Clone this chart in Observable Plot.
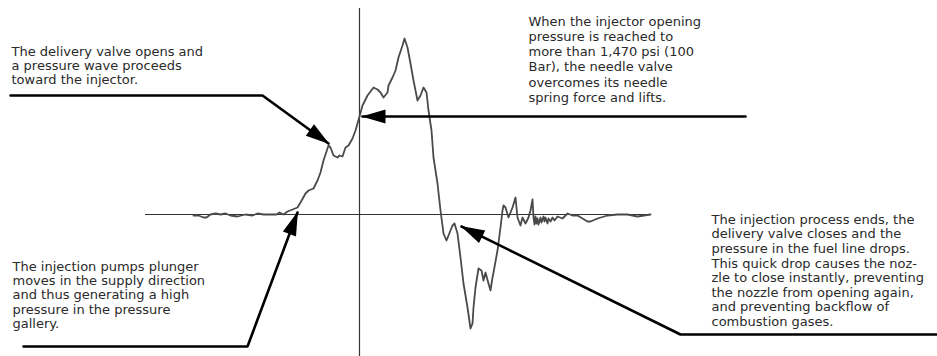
<!DOCTYPE html>
<html>
<head>
<meta charset="utf-8">
<script src="https://cdn.jsdelivr.net/npm/d3@7"></script>
<script src="https://cdn.jsdelivr.net/npm/@observablehq/plot@0.6"></script>
<style>
  body { margin: 0; background: #fff; }
  #chart svg { display: block; background: #fff; }
</style>
</head>
<body>
<div id="chart"></div>
<script>
// Fuel line pressure trace (time relative to injector opening, pressure relative to rest)
const time = [-166,-161,-156,-153,-149,-144,-139,-134,-129,-122,-114,-107,-102,-96,-89,-83,-80,-76,-72,-67,-62,-59,-54,-51,-46,-42,-39,-36,-32,-31,-29,-26,-22,-20,-17,-14,-11,-7,-4,-2,0,3,8,14,18,21,24,28,29,33,36,39,43,45,48,51,54,58,61,64,67,69,72,74,78,81,84,87,89,93,95,98,101,104,108,111,113,114,116,119,122,124,126,129,131,133,134,138,141,143,144,146,149,153,156,158,161,163,166,169,171,173,174,175,176,177,178,179,181,182,184,185,186,188,189,191,193,195,198,203,208,213,218,223,228,231,238,248,258,268,278,291];
const pressure = [-1,-1,-3,-3,0,1,0,1,-1,-2,0,-1,1,0,0,0,2,0,3,5,7,12,21,24,26,34,42,54,66,69,67,59,57,59,58,67,69,76,84,91,98,109,119,127,125,122,117,122,129,137,144,157,169,176,167,151,134,114,119,127,122,104,84,57,31,4,-19,-26,-21,-11,-9,-19,-43,-69,-93,-114,-109,-93,-73,-54,-56,-66,-58,-69,-76,-63,-58,-36,-13,4,9,7,-3,7,17,-3,-11,-3,-9,-3,4,15,-3,-10,-2,-9,-4,-10,-3,-8,-2,-7,-3,-9,-4,-7,-3,-6,-2,-4,1,-1,-1,-4,-7,-7,-4,-1,0,0,-2,0,-2,-1];

// Axes of the diagram
const axisX = [-214, 291];   // extent of the horizontal (zero pressure) line
const axisY = [-142, 206];   // extent of the vertical (opening) line

// Annotations: text, text anchor, leader path (ends at arrow tip)
const noteTexts = [
  "The delivery valve opens and\na pressure wave proceeds\ntoward the injector.",
  "When the injector opening\npressure is reached to\nmore than 1,470 psi (100\nBar), the needle valve\novercomes its needle\nspring force and lifts.",
  "The injection pumps plunger\nmoves in the supply direction\nand thus generating a high\npressure in the pressure\ngallery.",
  "The injection process ends, the\ndelivery valve closes and the\npressure in the fuel line drops.\nThis quick drop causes the noz-\nzle to close instantly, preventing\nthe nozzle from opening again,\nand preventing backflow of\ncombustion gases."
];
const noteX = [-348, 169, -347, 352];
const noteY = [169, 199, -46, 1];
const noteLineHeight = [1.09, 1.16, 1.1, 1.12];
const leaderX = [[-349, -97, -31], [386, 3], [-336, -112, -62], [577, 321, 102]];
const leaderY = [[119, 119, 71], [98, 98], [-132, -132, 2], [-120, -120, -12]];

const W = 937, H = 356;
const xDomain = [-359, 578], yDomain = [-142, 214];
const sx = d3.scaleLinear(xDomain, [0, W]);
const sy = d3.scaleLinear(yDomain, [H, 0]);

const trace = time.map((t, i) => ({t, p: pressure[i]}));

const leaders = [];
leaderX.forEach((xs, k) => xs.forEach((x, j) => leaders.push({k, x, y: leaderY[k][j]})));

const heads = leaderX.map((xs, k) => {
  const n = xs.length, ys = leaderY[k];
  const dx = sx(xs[n-1]) - sx(xs[n-2]);
  const dy = sy(ys[n-1]) - sy(ys[n-2]);
  return {x: xs[n-1], y: ys[n-1], a: Math.atan2(dy, dx) * 180 / Math.PI};
});

const arrowHead = {
  draw(ctx) {
    const L = 23, w = 7;
    ctx.moveTo(1, 0);
    ctx.lineTo(-L, -w);
    ctx.lineTo(-L, w);
    ctx.closePath();
  }
};

const font = "Verdana, 'DejaVu Sans', sans-serif";

const textMarks = noteTexts.map((txt, k) => Plot.text([{x: noteX[k], y: noteY[k], s: txt}], {
  x: "x", y: "y", text: "s",
  textAnchor: "start", lineAnchor: "top",
  lineHeight: noteLineHeight[k],
  fontSize: 13, fill: "#2a2a2a", fontFamily: font
}));

const chart = Plot.plot({
  width: W, height: H,
  margin: 0,
  x: {domain: xDomain, axis: null},
  y: {domain: yDomain, axis: null},
  style: {background: "#fff", fontFamily: font, overflow: "visible"},
  marks: [
    Plot.ruleY([0], {x1: axisX[0], x2: axisX[1], stroke: "#333", strokeWidth: 1.2}),
    Plot.ruleX([0], {y1: axisY[0], y2: axisY[1], stroke: "#333", strokeWidth: 1.2}),
    Plot.line(trace, {x: "t", y: "p", stroke: "#4a4a4a", strokeWidth: 1.8, strokeLinejoin: "round"}),
    Plot.line(leaders, {x: "x", y: "y", z: "k", stroke: "#000", strokeWidth: 2.6, strokeLinejoin: "miter"}),
    Plot.dot(heads, {x: "x", y: "y", rotate: "a", symbol: arrowHead, fill: "#000", stroke: "none"}),
    ...textMarks
  ]
});

document.getElementById("chart").appendChild(chart);
</script>
</body>
</html>
